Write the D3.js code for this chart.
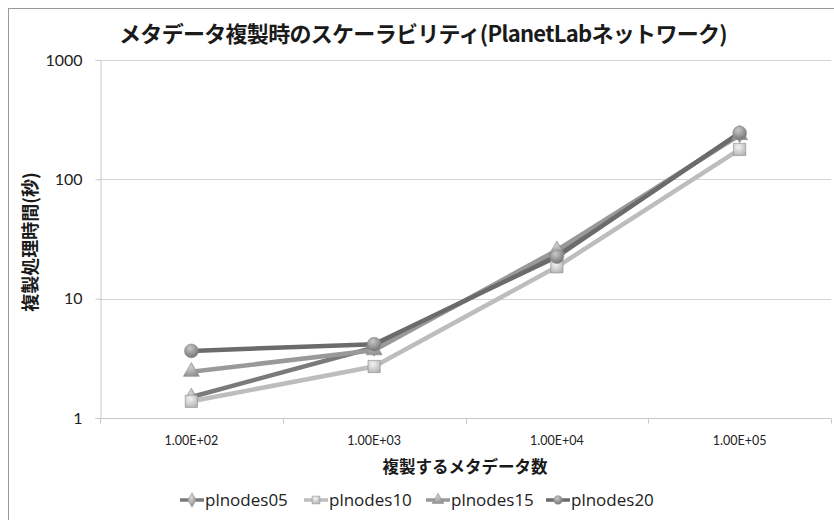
<!DOCTYPE html>
<html>
<head>
<meta charset="utf-8">
<script src="https://cdn.jsdelivr.net/npm/d3@7/dist/d3.min.js"></script>
<style>
  body { margin: 0; background: #fff; }
  svg { display: block; }
</style>
</head>
<body>
<svg id="chart" width="834" height="520"></svg>
<script>
// Number of metadata items replicated (x categories)
const categories = ["1.00E+02", "1.00E+03", "1.00E+04", "1.00E+05"];
// Replication time in seconds for each PlanetLab node count
const plnodes05 = [1.5, 3.9, 24, 240];
const plnodes10 = [1.38, 2.7, 18.5, 178];
const plnodes15 = [2.44, 3.7, 25.5, 235];
const plnodes20 = [3.65, 4.15, 22.5, 245];
const yTicks = [1, 10, 100, 1000];

const series = [
  { name: "plnodes05", values: plnodes05, color: "#7a7a7a", shape: "diamond", fill: ["#d8d8d8", "#8a8a8a"] },
  { name: "plnodes10", values: plnodes10, color: "#bdbdbd", shape: "square", fill: ["#f4f4f4", "#b4b4b4"] },
  { name: "plnodes15", values: plnodes15, color: "#999999", shape: "triangle", fill: ["#cfcfcf", "#8f8f8f"] },
  { name: "plnodes20", values: plnodes20, color: "#6b6b6b", shape: "circle", fill: ["#c8c8c8", "#707070"] }
];

const svg = d3.select("#chart");
const margin = { left: 100, right: 834 - 831, top: 60, bottom: 520 - 418 };
const W = 834, H = 520;

// gradients for shaded markers
const defs = svg.append("defs");
series.forEach((s, i) => {
  const g = defs.append("radialGradient").attr("id", "grad" + i)
    .attr("cx", "40%").attr("cy", "30%").attr("r", "75%");
  g.append("stop").attr("offset", "0%").attr("stop-color", s.fill[0]);
  g.append("stop").attr("offset", "100%").attr("stop-color", s.fill[1]);
});

// chart frame
svg.append("rect").attr("x", 8.5).attr("y", 8.5).attr("width", 840).attr("height", 540)
  .attr("fill", "#fff").attr("stroke", "#9a9a9a").attr("stroke-width", 1);

const x = d3.scaleBand().domain(categories).range([margin.left, W - margin.right]).padding(0);
const y = d3.scaleLog().domain([1, 1000]).range([H - margin.bottom, margin.top]);

// horizontal gridlines
svg.append("g").selectAll("line").data(yTicks).join("line")
  .attr("x1", margin.left).attr("x2", W - margin.right)
  .attr("y1", d => Math.round(y(d)) + 0.5).attr("y2", d => Math.round(y(d)) + 0.5)
  .attr("stroke", "#d4d4d4").attr("stroke-width", 1);

// y axis
const yAxis = svg.append("g").attr("transform", `translate(${margin.left + 0.5},0)`)
  .call(d3.axisLeft(y).tickValues(yTicks).tickFormat(d3.format("d")).tickSize(5).tickPadding(13));
yAxis.select(".domain").attr("stroke", "#c8c8c8");
yAxis.selectAll(".tick line").attr("stroke", "#c8c8c8");
yAxis.selectAll("text").attr("font-family", "Lato, 'Open Sans', sans-serif").attr("font-size", 16).attr("fill", "#222");

// x axis: ticks at category boundaries, labels at centers
const xBase = Math.round(y(1)) + 0.5;
svg.append("line").attr("x1", margin.left).attr("x2", W - margin.right)
  .attr("y1", xBase).attr("y2", xBase).attr("stroke", "#c8c8c8");
const bounds = categories.map(c => x(c)).concat([x(categories[categories.length - 1]) + x.bandwidth()]);
svg.append("g").selectAll("line").data(bounds).join("line")
  .attr("x1", d => Math.round(d) + 0.5).attr("x2", d => Math.round(d) + 0.5)
  .attr("y1", xBase).attr("y2", xBase + 5).attr("stroke", "#c8c8c8");
svg.append("g").selectAll("text").data(categories).join("text")
  .attr("x", d => x(d) + x.bandwidth() / 2).attr("y", 445)
  .attr("text-anchor", "middle").attr("font-family", "Lato, 'Open Sans', sans-serif")
  .attr("font-size", 12.5).attr("fill", "#222").text(d => d);

// markers
const sym = {
  diamond: d3.symbol().type(d3.symbolDiamond).size(90),
  square: d3.symbol().type(d3.symbolSquare).size(150),
  triangle: d3.symbol().type(d3.symbolTriangle).size(110),
  circle: d3.symbol().type(d3.symbolCircle).size(150)
};

const line = d3.line().x((d, i) => x(categories[i]) + x.bandwidth() / 2).y(d => y(d));

series.forEach((s, i) => {
  svg.append("path").datum(s.values).attr("d", line)
    .attr("fill", "none").attr("stroke", s.color).attr("stroke-width", 4.5)
    .attr("stroke-linejoin", "round");
});
series.forEach((s, i) => {
  svg.append("g").selectAll("path").data(s.values).join("path")
    .attr("transform", (d, j) => `translate(${x(categories[j]) + x.bandwidth() / 2},${y(d)})`)
    .attr("d", sym[s.shape]())
    .attr("fill", `url(#grad${i})`).attr("stroke", "#8a8a8a").attr("stroke-width", 0.6);
});

// title
svg.append("text").attr("x", 423).attr("y", 42).attr("text-anchor", "middle")
  .attr("font-family", "'Noto Sans CJK JP', sans-serif").attr("font-weight", "bold")
  .attr("font-size", 22).attr("fill", "#1a1a1a").attr("letter-spacing", -0.7)
  .text("メタデータ複製時のスケーラビリティ(PlanetLabネットワーク)");

// axis titles
svg.append("text").attr("transform", "translate(37,242) rotate(-90)").attr("text-anchor", "middle")
  .attr("font-family", "'Noto Sans CJK JP', sans-serif").attr("font-weight", "bold")
  .attr("font-size", 18).attr("fill", "#1a1a1a").text("複製処理時間(秒)");
svg.append("text").attr("x", 465).attr("y", 473).attr("text-anchor", "middle")
  .attr("font-family", "'Noto Sans CJK JP', sans-serif").attr("font-weight", "bold")
  .attr("font-size", 16.5).attr("fill", "#1a1a1a").text("複製するメタデータ数");

// legend
const legendX = [180, 304, 426, 546];
const lg = svg.append("g");
series.forEach((s, i) => {
  const g = lg.append("g").attr("transform", `translate(${legendX[i]},500)`);
  g.append("line").attr("x1", 0).attr("x2", 24).attr("y1", 0).attr("y2", 0)
    .attr("stroke", s.color).attr("stroke-width", 3.5);
  g.append("path").attr("transform", "translate(12,0)")
    .attr("d", d3.symbol().type({ diamond: d3.symbolDiamond, square: d3.symbolSquare, triangle: d3.symbolTriangle, circle: d3.symbolCircle }[s.shape]).size(60)())
    .attr("fill", `url(#grad${i})`).attr("stroke", "#8a8a8a").attr("stroke-width", 0.5);
  g.append("text").attr("x", 25).attr("y", 6).attr("font-family", "'Open Sans', Lato, sans-serif")
    .attr("font-size", 17).attr("fill", "#222").text(s.name);
});
</script>
</body>
</html>
